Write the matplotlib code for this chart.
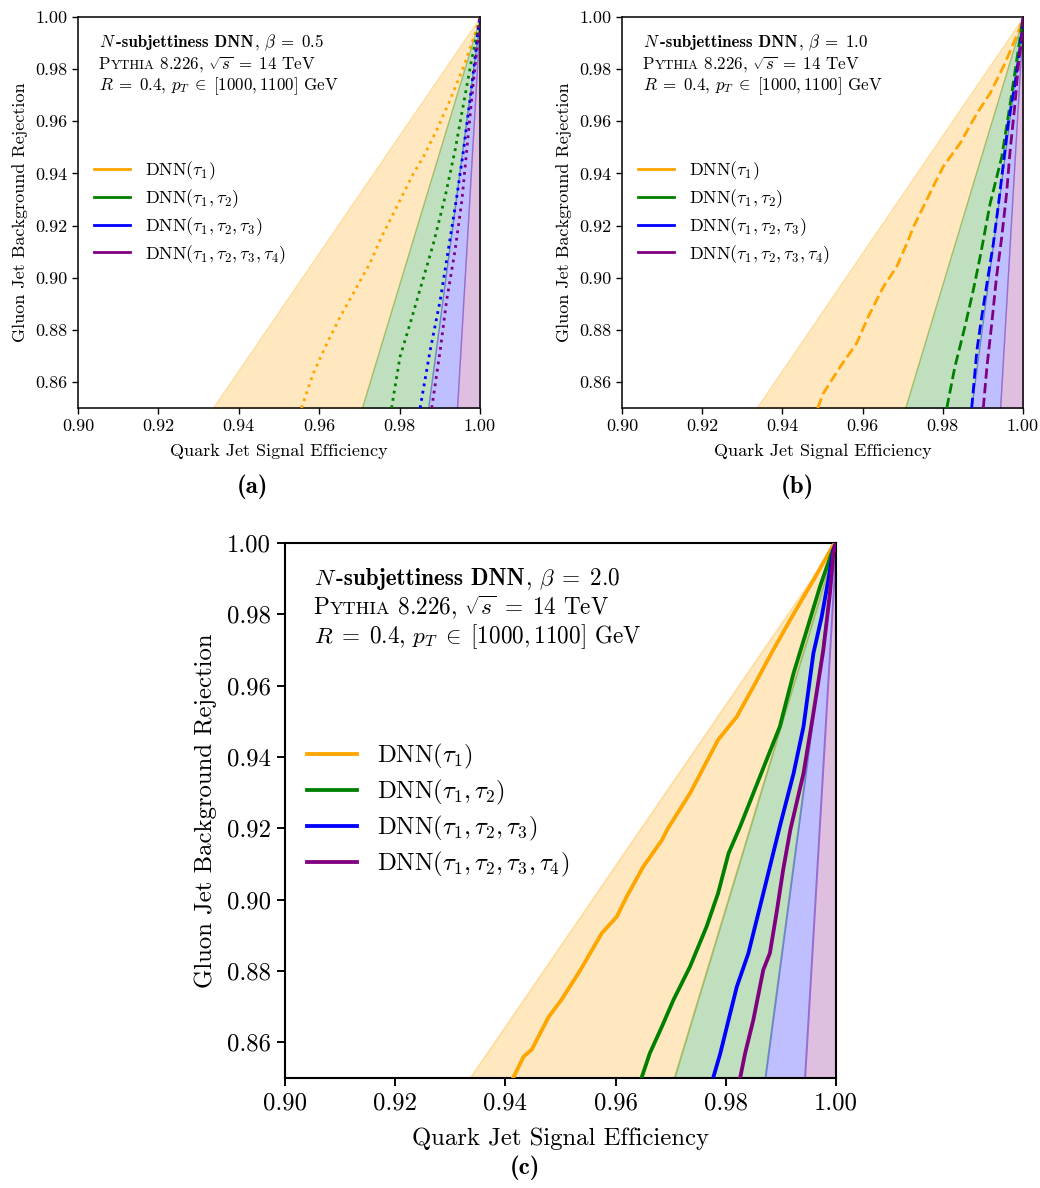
import matplotlib
matplotlib.use("Agg")
import matplotlib.pyplot as plt
import matplotlib.transforms as mtransforms
from matplotlib.lines import Line2D
from matplotlib.ticker import FormatStrFormatter, MultipleLocator

plt.rcParams['font.family'] = ['cmr10']
plt.rcParams['mathtext.fontset'] = 'cm'
plt.rcParams['axes.formatter.use_mathtext'] = True
plt.rcParams['axes.unicode_minus'] = False

# ---------------- data ----------------
labels = [r"DNN$(\tau_1)$", r"DNN$(\tau_1, \tau_2)$", r"DNN$(\tau_1, \tau_2, \tau_3)$",
          r"DNN$(\tau_1, \tau_2, \tau_3, \tau_4)$"]
colors = ['orange', 'green', 'blue', 'purple']
betas = ['0.5', '1.0', '2.0']
panel_tags = ['(a)', '(b)', '(c)']

# shaded regions: straight lines from (1,1) hitting y=0.85 at these efficiencies
band_eff_at_085 = [0.9335, 0.9706, 0.9871, 0.9943]

# panel (a), beta = 0.5
a1_eff = [0.9556, 0.9585, 0.9619, 0.9652, 0.9689, 0.9726, 0.9755, 0.9797, 0.9834, 0.9859, 0.9892, 0.9925, 0.9959, 0.9988, 1.0]
a1_rej = [0.85, 0.8632, 0.8747, 0.8849, 0.8952, 0.9054, 0.9156, 0.9284, 0.9399, 0.9463, 0.9565, 0.968, 0.9808, 0.9937, 1.0]
a2_eff = [0.9780, 0.9801, 0.9826, 0.9855, 0.9884, 0.9913, 0.9938, 0.9959, 0.9979, 0.9996, 1.0]
a2_rej = [0.85, 0.8696, 0.8823, 0.8977, 0.913, 0.9309, 0.9489, 0.9667, 0.9834, 0.9962, 1.0]
a3_eff = [0.9851, 0.9876, 0.9901, 0.9921, 0.9942, 0.9959, 0.9975, 0.9988, 0.9996, 1.0]
a3_rej = [0.85, 0.8721, 0.8913, 0.9105, 0.9309, 0.9489, 0.968, 0.9846, 0.9962, 1.0]
a4_eff = [0.9880, 0.9901, 0.9917, 0.9938, 0.9955, 0.9967, 0.9979, 0.9990, 0.9998, 1.0]
a4_rej = [0.85, 0.8721, 0.8913, 0.9105, 0.9297, 0.9489, 0.968, 0.9846, 0.9962, 1.0]

# panel (b), beta = 1.0
b1_eff = [0.9488, 0.9502, 0.9544, 0.9585, 0.9614, 0.9652, 0.9685, 0.9714, 0.9727, 0.9776, 0.9801, 0.9843, 0.9885, 0.9918, 0.9955, 0.9993, 1.0]
b1_rej = [0.85, 0.8556, 0.8658, 0.8748, 0.885, 0.8965, 0.9042, 0.9144, 0.9195, 0.9349, 0.9426, 0.9515, 0.963, 0.9707, 0.9822, 0.996, 1.0]
b2_eff = [0.9810, 0.9830, 0.9855, 0.9876, 0.9893, 0.9918, 0.9947, 0.9968, 0.9988, 1.0]
b2_rej = [0.85, 0.8657, 0.8811, 0.8952, 0.9079, 0.9284, 0.9463, 0.9667, 0.9872, 1.0]
b3_eff = [0.9872, 0.9885, 0.9897, 0.9910, 0.9926, 0.9939, 0.9951, 0.9963, 0.9980, 0.9993, 1.0]
b3_rej = [0.85, 0.8721, 0.8849, 0.8977, 0.913, 0.9284, 0.9437, 0.9591, 0.9744, 0.9885, 1.0]
b4_eff = [0.9901, 0.9910, 0.9922, 0.9934, 0.9947, 0.9959, 0.9968, 0.9980, 0.9988, 0.9997, 1.0]
b4_rej = [0.85, 0.8657, 0.8823, 0.9003, 0.9156, 0.9322, 0.9489, 0.9667, 0.9808, 0.9923, 1.0]

# panel (c), beta = 2.0
c1_eff = [0.9414, 0.9433, 0.9448, 0.9463, 0.9478, 0.9502, 0.9535, 0.9575, 0.9602, 0.9620, 0.9650, 0.9684, 0.9695, 0.9735, 0.9786, 0.9820, 0.9850, 0.9886, 0.9920, 0.9959, 0.9995, 1.0]
c1_rej = [0.85, 0.856, 0.858, 0.8625, 0.867, 0.872, 0.880, 0.8906, 0.8952, 0.9008, 0.9092, 0.9167, 0.920, 0.9298, 0.9448, 0.9513, 0.9597, 0.970, 0.9793, 0.9896, 0.9994, 1.0]
c2_eff = [0.9647, 0.9662, 0.9684, 0.9705, 0.9735, 0.9765, 0.9786, 0.9805, 0.9826, 0.9874, 0.9898, 0.9923, 0.9947, 0.9971, 0.9992, 1.0]
c2_rej = [0.85, 0.8569, 0.8644, 0.8719, 0.8812, 0.8924, 0.9018, 0.913, 0.9205, 0.9392, 0.9485, 0.9635, 0.9756, 0.9878, 0.9971, 1.0]
c3_eff = [0.9777, 0.9790, 0.9805, 0.9820, 0.9841, 0.9856, 0.9871, 0.9886, 0.9898, 0.9923, 0.9941, 0.9959, 0.9974, 0.9986, 0.9995, 1.0]
c3_rej = [0.85, 0.8569, 0.8663, 0.8756, 0.885, 0.8943, 0.9036, 0.913, 0.9205, 0.9354, 0.9485, 0.9691, 0.9793, 0.9896, 0.998, 1.0]
c4_eff = [0.9826, 0.9835, 0.9850, 0.9868, 0.9880, 0.9892, 0.9904, 0.9917, 0.9941, 0.9959, 0.9977, 0.9989, 0.9995, 1.0]
c4_rej = [0.85, 0.8569, 0.8663, 0.8803, 0.885, 0.8962, 0.9083, 0.9195, 0.9354, 0.9523, 0.970, 0.9859, 0.9971, 1.0]

panel_curves = [
    [(a1_eff, a1_rej), (a2_eff, a2_rej), (a3_eff, a3_rej), (a4_eff, a4_rej)],
    [(b1_eff, b1_rej), (b2_eff, b2_rej), (b3_eff, b3_rej), (b4_eff, b4_rej)],
    [(c1_eff, c1_rej), (c2_eff, c2_rej), (c3_eff, c3_rej), (c4_eff, c4_rej)],
]
linestyles = [':', '--', '-']

# ---------------- figure ----------------
W, H, DPI = 1040, 1188, 100
fig = plt.figure(figsize=(W / DPI, H / DPI), dpi=DPI)


def axes_px(l, r, t, b):
    return [l / W, 1 - b / H, (r - l) / W, (b - t) / H]


rects = [axes_px(78, 480, 17, 408), axes_px(622, 1023, 17, 408), axes_px(285, 836, 543, 1078)]
scales = [1.0, 1.0, 1.37]
renderer = fig.canvas.get_renderer()


def chain_text(ax, x, y, parts):
    off = 0.0
    for s, kw in parts:
        tr = ax.transAxes + mtransforms.Affine2D().translate(off, 0)
        t = ax.text(x, y, s, transform=tr, va='baseline', ha='left', **kw)
        off += t.get_window_extent(renderer).width


for i, (rect, sc) in enumerate(zip(rects, scales)):
    ax = fig.add_axes(rect)
    ax.set_xlim(0.90, 1.00)
    ax.set_ylim(0.85, 1.00)
    yy = [0.85, 1.0]
    edges = band_eff_at_085 + [1.0]
    for k in range(4):
        ax.fill_betweenx(yy, [edges[k], 1.0], [edges[k + 1], 1.0], color=colors[k], alpha=0.25,
                         linewidth=1.0 * sc, zorder=1)
    for k, (ex, ry) in enumerate(panel_curves[i]):
        ax.plot(ex, ry, color=colors[k], linestyle=linestyles[i], linewidth=2.0 * sc, zorder=3)

    fs_tick = 13.0 * sc
    ax.xaxis.set_major_locator(MultipleLocator(0.02))
    ax.yaxis.set_major_locator(MultipleLocator(0.02))
    ax.xaxis.set_major_formatter(FormatStrFormatter('%.2f'))
    ax.yaxis.set_major_formatter(FormatStrFormatter('%.2f'))
    ax.tick_params(labelsize=fs_tick, width=1.0 * sc, length=4.0 * sc, pad=3.5 * sc, direction='out')
    for sp in ax.spines.values():
        sp.set_linewidth(1.1 * sc)
    ax.set_xlabel('Quark Jet Signal Efficiency', fontsize=fs_tick, labelpad=7 * sc)
    ax.set_ylabel('Gluon Jet Background Rejection', fontsize=fs_tick, labelpad=5 * sc)

    handles = [Line2D([], [], color=colors[k], lw=2.0 * sc) for k in range(4)]
    ax.legend(handles, labels, loc='center left', frameon=False, fontsize=13.0 * sc,
              handlelength=2.0, bbox_to_anchor=(0.0, 0.5), labelspacing=0.28)

    fs_ann = 12.2 * sc
    x0 = 0.052
    dy = 0.0545
    y1 = 0.922
    chain_text(ax, x0, y1, [(r"$N$", dict(fontsize=fs_ann)),
                            ("-subjettiness DNN", dict(fontsize=fs_ann, fontfamily='cmb10')),
                            (r", $\beta\;=\;%s$" % betas[i], dict(fontsize=fs_ann))])
    chain_text(ax, x0, y1 - dy, [("P", dict(fontsize=fs_ann)),
                                 ("YTHIA", dict(fontsize=fs_ann * 0.78)),
                                 (r" 8.226, $\sqrt{s}\;=\;14$ TeV", dict(fontsize=fs_ann))])
    chain_text(ax, x0, y1 - 2 * dy, [(r"$R\;=\;0.4$, $p_T\;\in\;[1000, 1100]$ GeV", dict(fontsize=fs_ann))])

tag_pos = [(252, 487), (797, 487), (525, 1168)]
for (px, py), tag in zip(tag_pos, panel_tags):
    fig.text(px / W, 1 - py / H, tag, fontfamily='cmb10', fontsize=18, ha='center', va='center')

fig.savefig('out.png', dpi=DPI)
